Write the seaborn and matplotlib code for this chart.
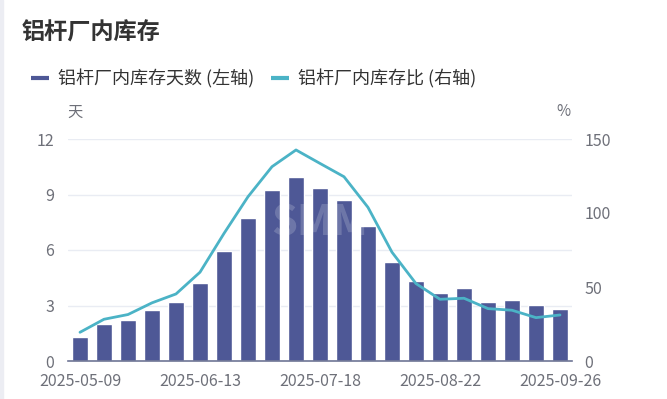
import numpy as np
import pandas as pd
import matplotlib
matplotlib.use("Agg")
import matplotlib.pyplot as plt
import seaborn as sns
from matplotlib.lines import Line2D

# =====================================
# Data
# =====================================

dates = [
    "2025-05-09", "2025-05-16", "2025-05-23", "2025-05-30", "2025-06-06",
    "2025-06-13", "2025-06-20", "2025-06-27", "2025-07-04", "2025-07-11",
    "2025-07-18", "2025-07-25", "2025-08-01", "2025-08-08", "2025-08-15",
    "2025-08-22", "2025-08-29", "2025-09-05", "2025-09-12", "2025-09-19",
    "2025-09-26",
]
days = [1.32, 1.99, 2.20, 2.78, 3.18, 4.24, 5.94, 7.73, 9.22, 9.96,
        9.35, 8.72, 7.31, 5.34, 4.35, 3.70, 3.97, 3.18, 3.32, 3.01, 2.80]
ratio = [19.4, 28.2, 31.4, 39.3, 45.3, 60.0, 86.2, 111.0, 131.3, 142.6,
         133.5, 124.5, 103.8, 73.5, 52.3, 41.7, 42.4, 35.4, 34.3, 29.3, 31.1]

label_days = "铝杆厂内库存天数 (左轴)"
label_ratio = "铝杆厂内库存比 (右轴)"

bar_color = "#4e5896"
line_color = "#4bb3c6"
text_color = "#6e7079"

df = pd.DataFrame({"date": dates, "days": days, "ratio": ratio})

# =====================================
# Style
# =====================================

sns.set_style("white")
plt.rcParams["font.family"] = ["Noto Sans CJK SC", "DejaVu Sans"]

fig = plt.figure(figsize=(6.67, 3.99), dpi=100)
ax = fig.add_axes([68 / 667, 1 - 361 / 399, (572 - 68) / 667, (361 - 139) / 399])

# =====================================
# Bars (left axis)
# =====================================

sns.barplot(data=df, x="date", y="days", color=bar_color, width=0.68,
            saturation=1, ax=ax, zorder=2)

ax.set_ylim(0, 12)
ax.set_yticks([0, 3, 6, 9, 12])
ax.set_xlim(-0.5, len(dates) - 0.5)
ax.set_xticks([0, 5, 10, 15, 20])
ax.set_xticklabels([dates[i] for i in [0, 5, 10, 15, 20]])
ax.set_xlabel("")
ax.set_ylabel("")
ax.grid(axis="y", color="#e9ecf3", linewidth=1, zorder=0)
ax.set_axisbelow(True)
for s in ["top", "right", "left"]:
    ax.spines[s].set_visible(False)
ax.spines["bottom"].set_color("#6e7595")
ax.spines["bottom"].set_linewidth(1.2)
ax.tick_params(axis="y", length=0, labelsize=11.5, colors=text_color, pad=10)
ax.tick_params(axis="x", length=0, labelsize=11.5, colors=text_color, pad=9)

# =====================================
# Line (right axis)
# =====================================

ax2 = ax.twinx()
sns.lineplot(x=np.arange(len(dates)), y=df["ratio"], color=line_color,
             linewidth=2, ax=ax2)
ax2.set_ylim(0, 150)
ax2.set_yticks([0, 50, 100, 150])
ax2.set_xlim(-0.5, len(dates) - 0.5)
ax2.set_ylabel("")
for s in ["top", "right", "left", "bottom"]:
    ax2.spines[s].set_visible(False)
ax2.tick_params(axis="y", length=0, labelsize=11.5, colors=text_color, pad=9)

# watermark
ax.text(0.5, 0.62, "SMM", transform=ax.transAxes, ha="center", va="center",
        fontsize=30, fontweight="bold", color="#ffffff", alpha=0.18, zorder=5)

# =====================================
# Texts
# =====================================

fig.text(22 / 667, 1 - 33 / 399, "铝杆厂内库存", fontsize=16.7,
         fontweight="bold", color="#333333", va="center", ha="left")
fig.text(75 / 667, 1 - 112 / 399, "天", fontsize=11, color=text_color,
         va="center", ha="center")
fig.text(563 / 667, 1 - 112 / 399, "%", fontsize=11, color=text_color,
         va="center", ha="center")

handles = [
    Line2D([0], [0], color=bar_color, linewidth=3, solid_capstyle="butt"),
    Line2D([0], [0], color=line_color, linewidth=3, solid_capstyle="butt"),
]
fig.legend(handles, [label_days, label_ratio], loc="center left",
           bbox_to_anchor=(31 / 667, 1 - 79 / 399), ncol=2, frameon=False,
           fontsize=13, handlelength=1.0, handletextpad=0.5,
           columnspacing=0.9, labelcolor="#333333", borderpad=0,
           borderaxespad=0)

# left edge strip
fig.patches.append(plt.Rectangle((0, 0), 3 / 667, 1, transform=fig.transFigure,
                                 color="#ecedf3", zorder=0))

fig.savefig("out.png", dpi=100)
